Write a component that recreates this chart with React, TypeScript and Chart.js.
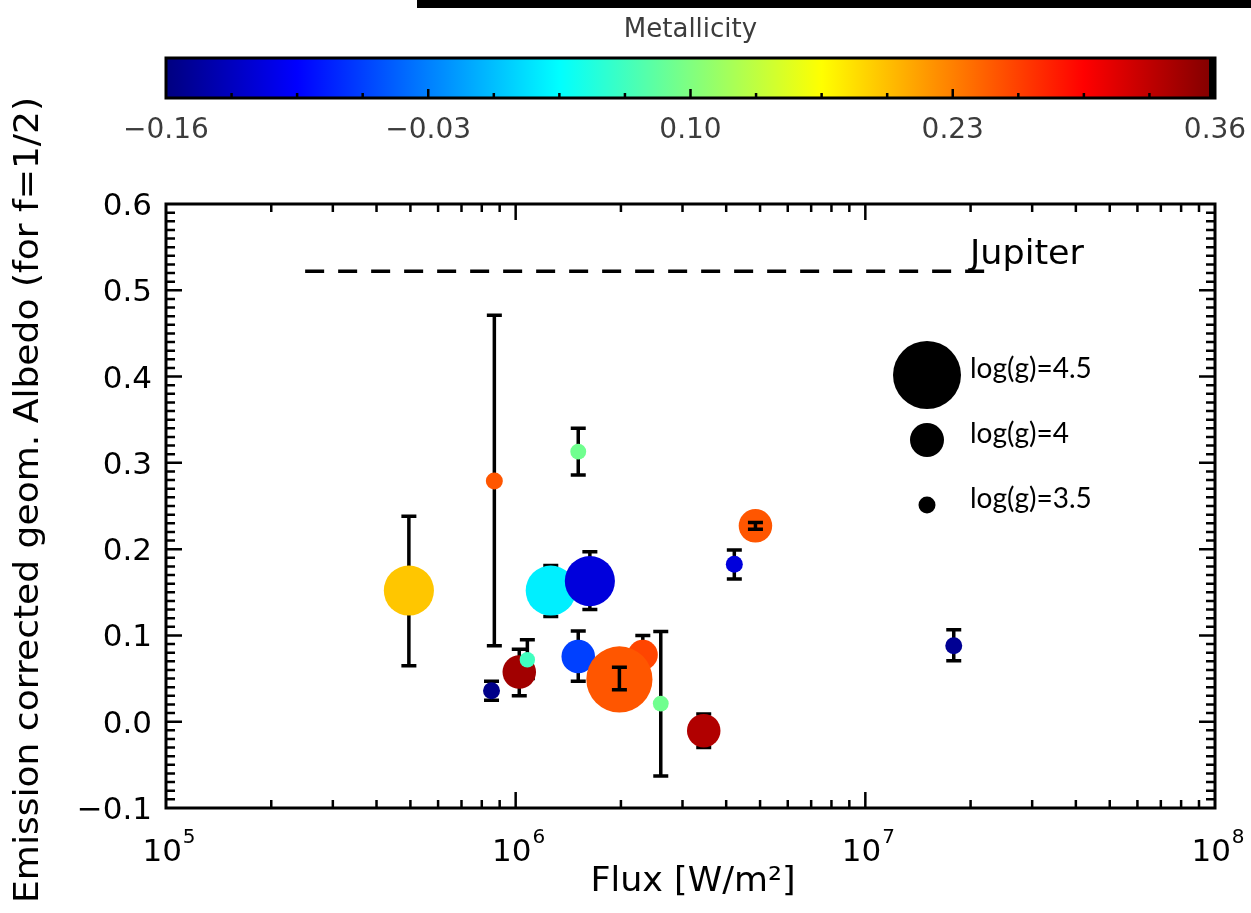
import React, { useEffect, useRef } from "react";
import { Chart, registerables } from "chart.js";
Chart.register(...registerables);

// ---- data ----
const FLUX = [4.95e5, 8.69e5, 8.53e5, 1.024e6, 1.08e6, 1.51e6, 1.26e6, 1.63e6, 1.51e6, 2.31e6, 1.98e6, 2.6e6, 3.45e6, 4.85e6, 4.22e6, 1.79e7];
const ALBEDO = [0.152, 0.279, 0.036, 0.0575, 0.0718, 0.313, 0.152, 0.163, 0.0756, 0.0775, 0.049, 0.021, -0.0104, 0.227, 0.1825, 0.088];
const ALBEDO_HI = [0.238, 0.471, 0.047, 0.084, 0.095, 0.34, 0.181, 0.197, 0.105, 0.1, 0.063, 0.1045, 0.009, 0.231, 0.199, 0.1065];
const ALBEDO_LO = [0.065, 0.088, 0.025, 0.03, 0.05, 0.286, 0.122, 0.13, 0.047, 0.055, 0.037, -0.063, -0.03, 0.223, 0.1655, 0.0706];
const METALLICITY = [0.194, 0.251, -0.155, 0.343, 0.0675, 0.092, 0.027, -0.113, -0.0625, 0.26, 0.251, 0.092, 0.335, 0.251, -0.113, -0.15];
const LOGG = [4.28, 3.5, 3.5, 3.99, 3.43, 3.45, 4.28, 4.28, 3.99, 3.91, 4.48, 3.45, 3.99, 3.99, 3.5, 3.5];

const JUPITER_FLUX = [2.5e5, 2.27e7];
const JUPITER_ALBEDO = 0.522;
const JUPITER_LABEL = "Jupiter";

const X_TICK_EXPONENTS = [5, 6, 7, 8];
const Y_TICKS = [-0.1, 0.0, 0.1, 0.2, 0.3, 0.4, 0.5, 0.6];
const COLORBAR_TICKS = [-0.16, -0.03, 0.1, 0.23, 0.36];
const COLORBAR_LABELS = ["\u22120.16", "\u22120.03", "0.10", "0.23", "0.36"];
const LEGEND_LOGG = [4.5, 4, 3.5];
const LEGEND_LABELS = ["log(g)=4.5", "log(g)=4", "log(g)=3.5"];

const X_TITLE = "Flux [W/m\u00b2]";
const Y_TITLE = "Emission corrected geom. Albedo (for f=1/2)";
const CB_TITLE = "Metallicity";

const CB_MIN = COLORBAR_TICKS[0];
const CB_MAX = COLORBAR_TICKS[COLORBAR_TICKS.length - 1];

function jet(m: number): string {
  const t = (m - CB_MIN) / (CB_MAX - CB_MIN);
  const c = (v: number) => Math.round(255 * Math.max(0, Math.min(1, v)));
  return `rgb(${c(1.5 - Math.abs(4 * t - 3))},${c(1.5 - Math.abs(4 * t - 2))},${c(1.5 - Math.abs(4 * t - 1))})`;
}
function radiusFor(logg: number): number {
  return 8.5 * Math.pow(4, logg - 3.5);
}

const TICK_FONT = "'DejaVu Sans', sans-serif";
const LEGEND_FONT = "Lato, 'DejaVu Sans', sans-serif";

function drawErr(ctx: CanvasRenderingContext2D, x: number, yHi: number, yLo: number) {
  ctx.save();
  ctx.strokeStyle = "#000";
  ctx.lineWidth = 3.5;
  ctx.lineCap = "butt";
  ctx.beginPath();
  ctx.moveTo(x, yHi);
  ctx.lineTo(x, yLo);
  ctx.moveTo(x - 7.5, yHi);
  ctx.lineTo(x + 7.5, yHi);
  ctx.moveTo(x - 7.5, yLo);
  ctx.lineTo(x + 7.5, yLo);
  ctx.stroke();
  ctx.restore();
}

function errInside(chart: any, i: number): boolean {
  const y = chart.scales.y;
  const yc = y.getPixelForValue(ALBEDO[i]);
  const r = radiusFor(LOGG[i]);
  return Math.abs(y.getPixelForValue(ALBEDO_HI[i]) - yc) < r && Math.abs(y.getPixelForValue(ALBEDO_LO[i]) - yc) < r;
}

function errBars(chart: any, inside: boolean) {
  const ctx = chart.ctx;
  const x = chart.scales.x;
  const y = chart.scales.y;
  FLUX.forEach((f, i) => {
    if (errInside(chart, i) !== inside) return;
    drawErr(ctx, x.getPixelForValue(f), y.getPixelForValue(ALBEDO_HI[i]), y.getPixelForValue(ALBEDO_LO[i]));
  });
}

function fitText(ctx: CanvasRenderingContext2D, text: string, x: number, y: number, target: number) {
  const w = ctx.measureText(text).width;
  const s = target / w;
  ctx.save();
  ctx.translate(x, y);
  ctx.scale(s, 1);
  ctx.fillText(text, 0, 0);
  ctx.restore();
}

const decor = {
  id: "decor",
  beforeDatasetsDraw(chart: any) {
    errBars(chart, false);
  },
  afterDatasetsDraw(chart: any) {
    errBars(chart, true);
  },
  afterDraw(chart: any) {
    const ctx: CanvasRenderingContext2D = chart.ctx;
    const a = chart.chartArea;
    const xs = chart.scales.x;
    const ys = chart.scales.y;
    ctx.save();

    // frame
    ctx.strokeStyle = "#000";
    ctx.lineWidth = 3;
    ctx.strokeRect(a.left, a.top, a.right - a.left, a.bottom - a.top);

    // x ticks (inward, bottom and top)
    ctx.lineWidth = 2.5;
    ctx.beginPath();
    for (let e = X_TICK_EXPONENTS[0]; e <= X_TICK_EXPONENTS[X_TICK_EXPONENTS.length - 1]; e++) {
      for (let k = 1; k <= 9; k++) {
        const v = k * Math.pow(10, e);
        if (v > 1e8 || (k === 1 && (e === 5 || e === 8))) continue;
        const px = xs.getPixelForValue(v);
        const len = k === 1 ? 16 : 8;
        ctx.moveTo(px, a.bottom);
        ctx.lineTo(px, a.bottom - len);
        ctx.moveTo(px, a.top);
        ctx.lineTo(px, a.top + len);
      }
    }
    // y ticks (inward, left and right)
    for (let j = 0; j <= 70; j++) {
      const v = -0.1 + j * 0.01;
      const py = ys.getPixelForValue(v);
      const len = j % 10 === 0 ? 16 : 9;
      if (j === 0 || j === 70) continue;
      ctx.moveTo(a.left, py);
      ctx.lineTo(a.left + len, py);
      ctx.moveTo(a.right, py);
      ctx.lineTo(a.right - len, py);
    }
    ctx.stroke();

    // y tick labels
    ctx.fillStyle = "#000";
    ctx.font = `31px ${TICK_FONT}`;
    ctx.textAlign = "right";
    ctx.textBaseline = "middle";
    Y_TICKS.forEach((v) => {
      const txt = (v < 0 ? "\u2212" : "") + Math.abs(v).toFixed(1);
      ctx.fillText(txt, a.left - 14, ys.getPixelForValue(v) + 3);
    });

    // x tick labels 10^e
    ctx.textAlign = "left";
    ctx.textBaseline = "alphabetic";
    X_TICK_EXPONENTS.forEach((e) => {
      const px = xs.getPixelForValue(Math.pow(10, e));
      ctx.font = `31px ${TICK_FONT}`;
      const w10 = ctx.measureText("10").width;
      ctx.font = `20px ${TICK_FONT}`;
      const ws = ctx.measureText(String(e)).width;
      const left = px - (w10 + ws + 1) / 2 + 3;
      ctx.font = `31px ${TICK_FONT}`;
      ctx.fillText("10", left, a.bottom + 53);
      ctx.font = `20px ${TICK_FONT}`;
      ctx.fillText(String(e), left + w10 + 1, a.bottom + 35);
    });

    // axis titles
    ctx.fillStyle = "#000";
    ctx.font = `34px ${TICK_FONT}`;
    ctx.textAlign = "left";
    ctx.textBaseline = "middle";
    ctx.save();
    ctx.translate((a.left + a.right) / 2 - 100, 882);
    fitText(ctx, X_TITLE, 0, 0, 205);
    ctx.restore();
    ctx.save();
    ctx.translate(29, 500);
    ctx.rotate(-Math.PI / 2);
    fitText(ctx, Y_TITLE, -403, 0, 806);
    ctx.restore();

    // Jupiter label
    ctx.font = `34px ${TICK_FONT}`;
    ctx.textAlign = "left";
    ctx.textBaseline = "middle";
    fitText(ctx, JUPITER_LABEL, 970, 255, 114);

    // size legend
    LEGEND_LOGG.forEach((g, i) => {
      const cy = 375 + i * 65;
      ctx.fillStyle = "#000";
      ctx.beginPath();
      ctx.arc(927, cy, radiusFor(g), 0, Math.PI * 2);
      ctx.fill();
      ctx.font = `28px ${LEGEND_FONT}`;
      ctx.textAlign = "left";
      ctx.textBaseline = "middle";
      ctx.fillText(LEGEND_LABELS[i], 970, cy - 6);
    });

    // colorbar
    const cbTop = 58, cbBot = 98;
    const grad = ctx.createLinearGradient(a.left, 0, a.right, 0);
    for (let s = 0; s <= 64; s++) {
      const t = s / 64;
      grad.addColorStop(t, jet(CB_MIN + t * (CB_MAX - CB_MIN)));
    }
    ctx.fillStyle = grad;
    ctx.fillRect(a.left, cbTop, a.right - a.left, cbBot - cbTop);
    ctx.fillStyle = "#000";
    ctx.fillRect(a.right - 6, cbTop, 6, cbBot - cbTop);
    ctx.strokeStyle = "#000";
    ctx.lineWidth = 3;
    ctx.strokeRect(a.left, cbTop, a.right - a.left, cbBot - cbTop);
    const cbX = (m: number) => a.left + ((m - CB_MIN) / (CB_MAX - CB_MIN)) * (a.right - a.left);
    ctx.lineWidth = 2.5;
    ctx.beginPath();
    for (let j = 1; j < (COLORBAR_TICKS.length - 1) * 4; j++) {
      const m = CB_MIN + (j * (CB_MAX - CB_MIN)) / ((COLORBAR_TICKS.length - 1) * 4);
      const px = cbX(m);
      ctx.moveTo(px, cbBot);
      ctx.lineTo(px, cbBot - (j % 4 === 0 ? 9 : 5));
    }
    ctx.stroke();
    ctx.fillStyle = "#3c3c3c";
    ctx.font = `28px ${TICK_FONT}`;
    ctx.textAlign = "center";
    ctx.textBaseline = "middle";
    COLORBAR_TICKS.forEach((m, i) => {
      ctx.fillText(COLORBAR_LABELS[i], cbX(m), 131);
    });
    ctx.fillStyle = "#3c3c3c";
    ctx.font = `26px ${TICK_FONT}`;
    ctx.fillText(CB_TITLE, (a.left + a.right) / 2, 30);

    // black strip at top of the picture
    ctx.fillStyle = "#000";
    ctx.fillRect(417, 0, 834, 8);

    ctx.restore();
  },
};

export default function App() {
  const ref = useRef<HTMLCanvasElement>(null);
  useEffect(() => {
    document.body.style.margin = "0";
    if (!ref.current) return;
    const chart = new Chart(ref.current, {
      type: "scatter",
      data: {
        datasets: [
          {
            type: "line",
            label: "Jupiter",
            data: JUPITER_FLUX.map((x) => ({ x, y: JUPITER_ALBEDO })),
            borderColor: "#000",
            borderWidth: 3.5,
            borderDash: [19, 14],
            pointRadius: 0,
            fill: false,
          } as any,
          {
            label: "Planets",
            data: FLUX.map((x, i) => ({ x, y: ALBEDO[i] })),
            backgroundColor: METALLICITY.map(jet),
            pointRadius: LOGG.map(radiusFor),
            pointHoverRadius: LOGG.map(radiusFor),
            pointBorderWidth: 0,
            borderWidth: 0,
          },
        ],
      },
      options: {
        animation: false,
        responsive: false,
        events: [],
        layout: { padding: { left: 166, right: 36, top: 204, bottom: 105 } },
        scales: {
          x: { type: "logarithmic", min: 1e5, max: 1e8, display: false },
          y: { type: "linear", min: -0.1, max: 0.6, display: false },
        },
        plugins: { legend: { display: false }, tooltip: { enabled: false } },
      },
      plugins: [decor],
    });
    return () => chart.destroy();
  }, []);
  return (
    <div style={{ width: 1251, height: 913, background: "#fff" }}>
      <canvas ref={ref} width={1251} height={913} style={{ display: "block", width: 1251, height: 913 }} />
    </div>
  );
}
